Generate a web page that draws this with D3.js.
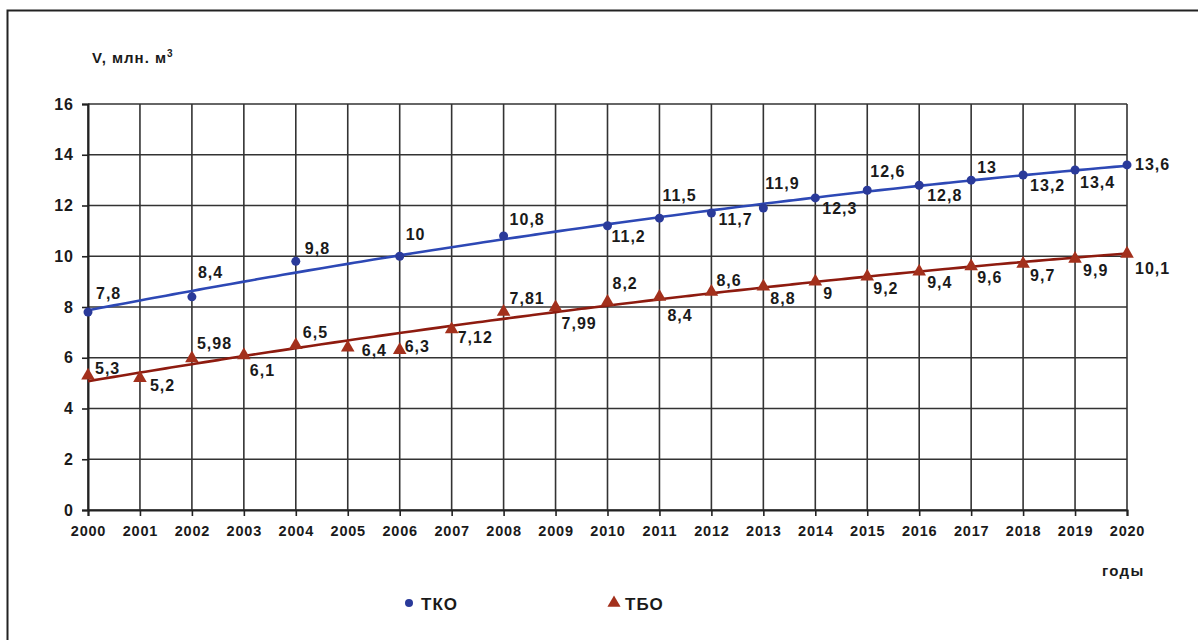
<!DOCTYPE html>
<html>
<head>
<meta charset="utf-8">
<script src="https://cdn.jsdelivr.net/npm/d3@7"></script>
<style>
  html, body { margin: 0; padding: 0; background: #fff; }
  svg { display: block; font-family: "Liberation Sans", Arial, sans-serif; }
  .lbl { font-weight: bold; fill: #1a1a1a; }
</style>
</head>
<body>
<svg id="chart" width="1198" height="640"></svg>
<script>
// Годы по оси X
const years = d3.range(2000, 2021);
const yTicks = [0, 2, 4, 6, 8, 10, 12, 14, 16];

// ТКО, млн. м³
const tkoYears  = [2000, 2002, 2004, 2006, 2008, 2010, 2011, 2012, 2013, 2014, 2015, 2016, 2017, 2018, 2019, 2020];
const tkoValues = [7.8, 8.4, 9.8, 10, 10.8, 11.2, 11.5, 11.7, 11.9, 12.3, 12.6, 12.8, 13, 13.2, 13.4, 13.6];

// ТБО, млн. м³
const tboYears  = years;
const tboValues = [5.3, 5.2, 5.98, 6.1, 6.5, 6.4, 6.3, 7.12, 7.81, 7.99, 8.2, 8.4, 8.6, 8.8, 9, 9.2, 9.4, 9.6, 9.7, 9.9, 10.1];

// Смещения подписей значений относительно точек [dx, dy]
const tkoLabelOffset = [[8,-13],[6,-19],[9,-7],[6,-16],[6,-11],[4,16],[3,-17],[7,12],[2,-19],[7,16],[3,-13],[8,16],[6,-7],[7,16],[5,18],[8,5]];
const tboLabelOffset = [[7,-2],[10,13],[5,-9],[6,21],[7,-7],[14,8],[5,2],[6,14],[6,-8],[6,22],[5,-13],[8,24],[5,-6],[7,17],[8,17],[6,17],[8,17],[6,17],[7,17],[8,17],[8,20]];

const fmt = v => String(v).replace('.', ',');

const svg = d3.select('#chart');

// Рамка
svg.append('rect')
  .attr('x', 7.5).attr('y', 10.5)
  .attr('width', 1400).attr('height', 800)
  .attr('fill', 'none').attr('stroke', '#222').attr('stroke-width', 2);

const x = d3.scaleLinear().domain([2000, 2020]).range([88, 1127]);
const y = d3.scaleLinear().domain([0, 16]).range([510, 104]);

// Сетка
const grid = svg.append('g');
grid.selectAll('line.v').data(years).join('line')
  .attr('x1', d => x(d)).attr('x2', d => x(d))
  .attr('y1', y(0)).attr('y2', y(16))
  .attr('stroke', '#333').attr('stroke-width', 1.6);
grid.selectAll('line.h').data(yTicks).join('line')
  .attr('x1', x(2000)).attr('x2', x(2020))
  .attr('y1', d => y(d)).attr('y2', d => y(d))
  .attr('stroke', '#333').attr('stroke-width', 1.6);

// Оси
const yAxis = svg.append('g')
  .attr('transform', `translate(${x(2000)},0)`)
  .call(d3.axisLeft(y).tickValues(yTicks).tickSize(6).tickPadding(8).tickFormat(d3.format('d')));
yAxis.select('.domain').attr('stroke', '#222').attr('stroke-width', 2);
yAxis.selectAll('.tick line').attr('stroke', '#222').attr('stroke-width', 1.6);
yAxis.selectAll('.tick text')
  .attr('font-size', 16).attr('font-weight', 'bold').attr('fill', '#1a1a1a')
  .attr('font-family', '"Liberation Sans", Arial, sans-serif')
  .style('letter-spacing', '1px');

const xAxis = svg.append('g')
  .attr('transform', `translate(0,${y(0)})`)
  .call(d3.axisBottom(x).tickValues(years).tickSize(6).tickPadding(10).tickFormat(d3.format('d')));
xAxis.select('.domain').attr('stroke', '#222').attr('stroke-width', 2);
xAxis.selectAll('.tick line').attr('stroke', '#222').attr('stroke-width', 1.6);
xAxis.selectAll('.tick text')
  .attr('font-size', 14.5).attr('font-weight', 'bold').attr('fill', '#1a1a1a')
  .attr('font-family', '"Liberation Sans", Arial, sans-serif')
  .style('letter-spacing', '0.8px');

// Подписи осей
const yTitle = svg.append('text').attr('class', 'lbl')
  .attr('x', 92).attr('y', 63).attr('font-size', 15).style('letter-spacing', '1px');
yTitle.append('tspan').text('V, млн. м');
yTitle.append('tspan').attr('dy', -6).attr('font-size', 10).text('3');

svg.append('text').attr('class', 'lbl')
  .attr('x', 1102).attr('y', 576).attr('font-size', 15).style('letter-spacing', '1.3px')
  .text('годы');

// Полиномиальная линия тренда (2-й степени, МНК)
function polyFit(xs, ys, deg) {
  const n = deg + 1;
  const A = Array.from({length: n}, () => new Array(n + 1).fill(0));
  xs.forEach((xv, k) => {
    const t = xv - 2000;
    for (let i = 0; i < n; i++) {
      for (let j = 0; j < n; j++) A[i][j] += Math.pow(t, i + j);
      A[i][n] += Math.pow(t, i) * ys[k];
    }
  });
  for (let i = 0; i < n; i++) {
    let p = i;
    for (let r = i + 1; r < n; r++) if (Math.abs(A[r][i]) > Math.abs(A[p][i])) p = r;
    [A[i], A[p]] = [A[p], A[i]];
    for (let r = 0; r < n; r++) {
      if (r === i) continue;
      const f = A[r][i] / A[i][i];
      for (let c = i; c <= n; c++) A[r][c] -= f * A[i][c];
    }
  }
  const coef = A.map((row, i) => row[n] / row[i]);
  return xv => coef.reduce((s, c, i) => s + c * Math.pow(xv - 2000, i), 0);
}

const tkoTrend = polyFit(tkoYears, tkoValues, 2);
const tboTrend = polyFit(tboYears, tboValues, 2);
const samples = d3.range(2000, 2020.001, 0.25);
const line = f => d3.line().x(d => x(d)).y(d => y(f(d))).curve(d3.curveMonotoneX)(samples);

const blueLine = '#2d48b5', blueMark = '#2a3a9a';
const redLine = '#8e1b0f', redMark = '#a3301c';

svg.append('path').attr('d', line(tboTrend))
  .attr('fill', 'none').attr('stroke', redLine).attr('stroke-width', 2.6);
svg.append('path').attr('d', line(tkoTrend))
  .attr('fill', 'none').attr('stroke', blueLine).attr('stroke-width', 2.6);

// Маркеры
const tri = d3.symbol().type(d3.symbolTriangle).size(80);
svg.append('g').selectAll('path').data(tboYears).join('path')
  .attr('d', tri)
  .attr('transform', (d, i) => `translate(${x(d)},${y(tboValues[i])})`)
  .attr('fill', redMark);

svg.append('g').selectAll('circle').data(tkoYears).join('circle')
  .attr('cx', d => x(d)).attr('cy', (d, i) => y(tkoValues[i]))
  .attr('r', 4.5).attr('fill', blueMark);

// Подписи значений
svg.append('g').selectAll('text').data(tkoYears).join('text')
  .attr('class', 'lbl').attr('font-size', 16).style('letter-spacing', '1px')
  .attr('x', (d, i) => x(d) + tkoLabelOffset[i][0])
  .attr('y', (d, i) => y(tkoValues[i]) + tkoLabelOffset[i][1])
  .text((d, i) => fmt(tkoValues[i]));

svg.append('g').selectAll('text').data(tboYears).join('text')
  .attr('class', 'lbl').attr('font-size', 16).style('letter-spacing', '1px')
  .attr('x', (d, i) => x(d) + tboLabelOffset[i][0])
  .attr('y', (d, i) => y(tboValues[i]) + tboLabelOffset[i][1])
  .text((d, i) => fmt(tboValues[i]));

// Легенда
const legend = svg.append('g');
legend.append('circle').attr('cx', 409).attr('cy', 603).attr('r', 4).attr('fill', blueMark);
legend.append('text').attr('class', 'lbl').attr('x', 421).attr('y', 609.5)
  .attr('font-size', 17).style('letter-spacing', '1px').text('ТКО');
legend.append('path').attr('d', d3.symbol().type(d3.symbolTriangle).size(75))
  .attr('transform', 'translate(614,603)').attr('fill', redMark);
legend.append('text').attr('class', 'lbl').attr('x', 625).attr('y', 609.5)
  .attr('font-size', 17).style('letter-spacing', '1px').text('ТБО');
</script>
</body>
</html>
